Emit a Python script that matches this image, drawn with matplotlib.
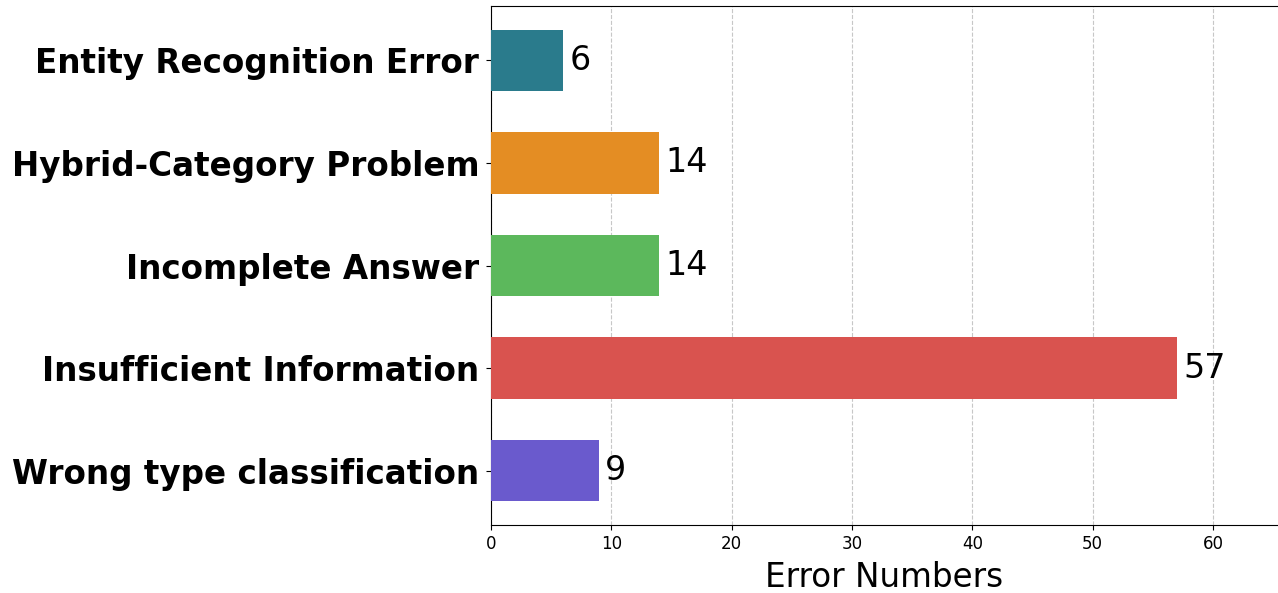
import matplotlib
matplotlib.use('Agg')
import matplotlib.pyplot as plt

categories = ['Wrong type classification', 'Insufficient Information', 'Incomplete Answer',
              'Hybrid-Category Problem', 'Entity Recognition Error']
counts = [9, 57, 14, 14, 6]
colors = ['#6a5acd', '#d9534f', '#5cb85c', '#e48d23', '#2a7b8c']

fig = plt.figure(figsize=(12.78, 5.93), dpi=100)
ax = fig.add_axes([491 / 1278, 1 - 525 / 593, 1 - 491 / 1278, (525 - 6) / 593])

bars = ax.barh(categories, counts, height=0.6, color=colors, zorder=3)
for rect, v in zip(bars, counts):
    ax.text(rect.get_width() + 0.5, rect.get_y() + rect.get_height() / 2, str(v),
            va='center', ha='left', fontsize=24)

ax.set_xlim(0, 65.4)
ax.set_xlabel('Error Numbers', fontsize=23.5, labelpad=6)
ax.tick_params(axis='x', labelsize=12)
ax.tick_params(axis='y', labelsize=23.5, pad=5)
for lbl in ax.get_yticklabels():
    lbl.set_fontweight('bold')
ax.grid(axis='x', linestyle='--', alpha=0.7, zorder=0)
ax.spines['right'].set_visible(False)

fig.savefig('out.png', dpi=100)
